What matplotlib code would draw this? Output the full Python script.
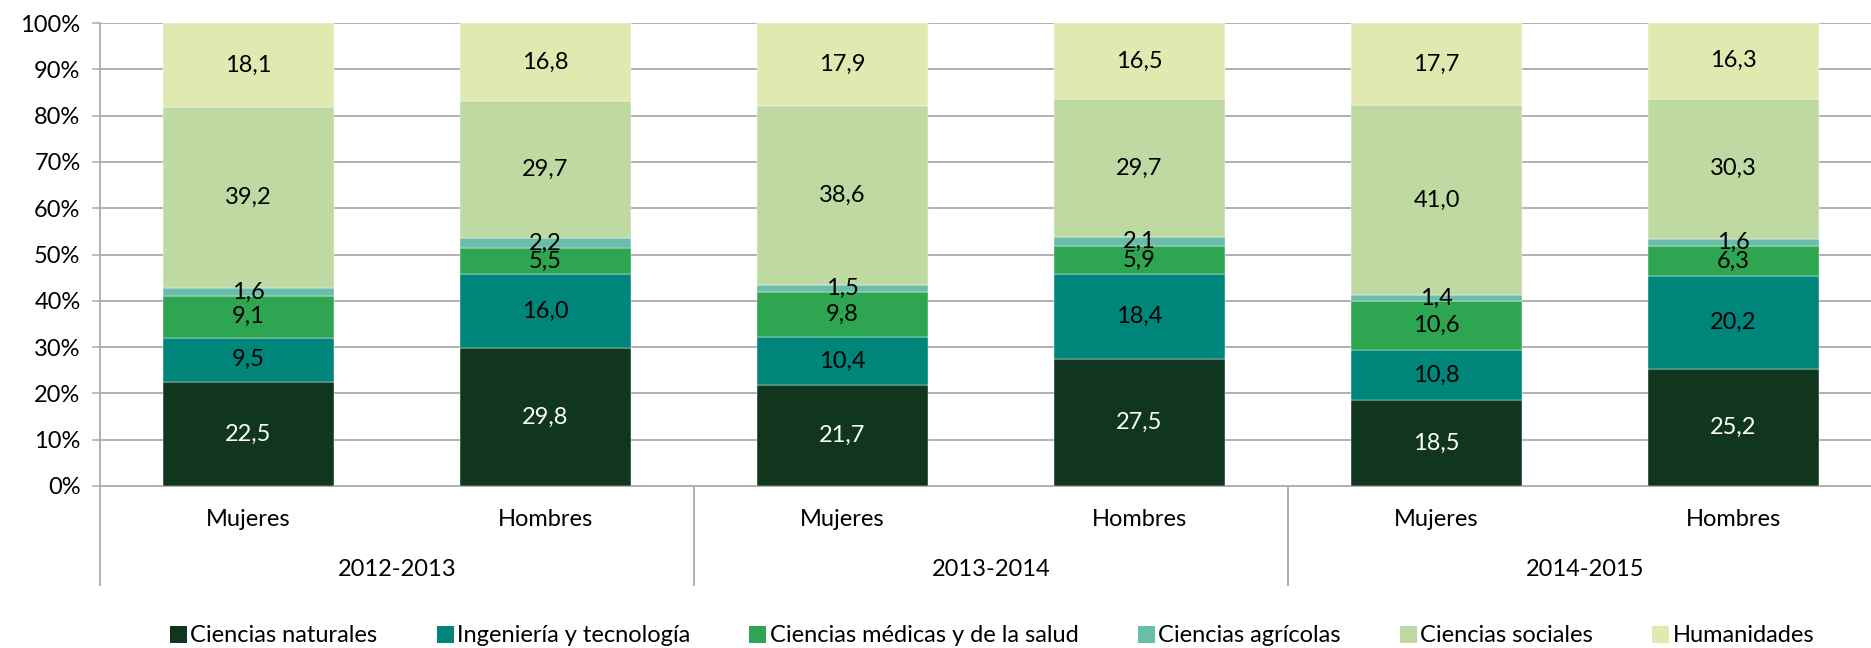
import numpy as np
import matplotlib.pyplot as plt
from matplotlib.patches import Patch
import matplotlib.transforms as mtransforms

plt.rcParams['font.family'] = ['Lato', 'DejaVu Sans']

years = ['2012-2013', '2013-2014', '2014-2015']
sexes = ['Mujeres', 'Hombres']
fields = ['Ciencias naturales', 'Ingeniería y tecnología', 'Ciencias médicas y de la salud',
          'Ciencias agrícolas', 'Ciencias sociales', 'Humanidades']

# values per bar: M12, H12, M13, H13, M14, H14
naturales = [22.5, 29.8, 21.7, 27.5, 18.5, 25.2]
ingenieria = [9.5, 16.0, 10.4, 18.4, 10.8, 20.2]
medicas = [9.1, 5.5, 9.8, 5.9, 10.6, 6.3]
agricolas = [1.6, 2.2, 1.5, 2.1, 1.4, 1.6]
sociales = [39.2, 29.7, 38.6, 29.7, 41.0, 30.3]
humanidades = [18.1, 16.8, 17.9, 16.5, 17.7, 16.3]

colors = ['#10361d', '#00857a', '#2ea651', '#6bbdab', '#bfd9a3', '#e1e9b1']
text_colors = ['white', 'black', 'black', 'black', 'black', 'black']

series = np.array([naturales, ingenieria, medicas, agricolas, sociales, humanidades])
shares = series / series.sum(axis=0) * 100

fig = plt.figure(figsize=(18.71, 6.48), dpi=100)
ax = fig.add_axes([100 / 1871, 162 / 648, 1782 / 1871, 463 / 648])

x = np.arange(len(naturales))
bottom = np.zeros(len(x))
for i, name in enumerate(fields):
    ax.bar(x, shares[i], bottom=bottom, width=0.573, color=colors[i],
           edgecolor='white', linewidth=0.3, zorder=3, label=name)
    for xi, b, h, v in zip(x, bottom, shares[i], series[i]):
        ax.text(xi, b + h / 2, f'{v:.1f}'.replace('.', ','), ha='center', va='center',
                fontsize=17, color=text_colors[i], zorder=4)
    bottom += shares[i]

ax.set_xlim(-0.5, 5.5)
ax.set_ylim(0, 100)
ax.set_yticks(np.arange(0, 101, 10))
ax.set_yticklabels([f'{v}%' for v in range(0, 101, 10)], fontsize=17)
ax.yaxis.grid(True, color='#b0b0b0', linewidth=1.4, zorder=0)
ax.set_axisbelow(True)
ax.tick_params(axis='y', length=6, width=1.2, color='#b0b0b0', pad=8)
ax.set_xticks([])
for s in ['top', 'right']:
    ax.spines[s].set_visible(False)
for s in ['left', 'bottom']:
    ax.spines[s].set_color('#b0b0b0')
    ax.spines[s].set_linewidth(1.4)

trans = mtransforms.blended_transform_factory(ax.transData, ax.transAxes)
for xi in x:
    ax.text(xi, -34 / 463, sexes[xi % 2], transform=trans, ha='center', va='center', fontsize=17)
for g, yr in enumerate(years):
    ax.text(2 * g + 0.5, -84 / 463, yr, transform=trans, ha='center', va='center', fontsize=17)
for sep in [-0.5, 1.5, 3.5]:
    ax.plot([sep, sep], [0, -99 / 463], transform=trans, color='#b0b0b0',
            linewidth=1.4, clip_on=False)

handles = [Patch(facecolor=c) for c in colors]
fig.legend(handles, fields, loc='center', bbox_to_anchor=(992 / 1871, 12 / 648), ncol=6,
           frameon=False, fontsize=17, handlelength=0.72, handleheight=0.72,
           handletextpad=0.15, columnspacing=2.5, borderpad=0, borderaxespad=0)

plt.savefig('out.png', dpi=100)
